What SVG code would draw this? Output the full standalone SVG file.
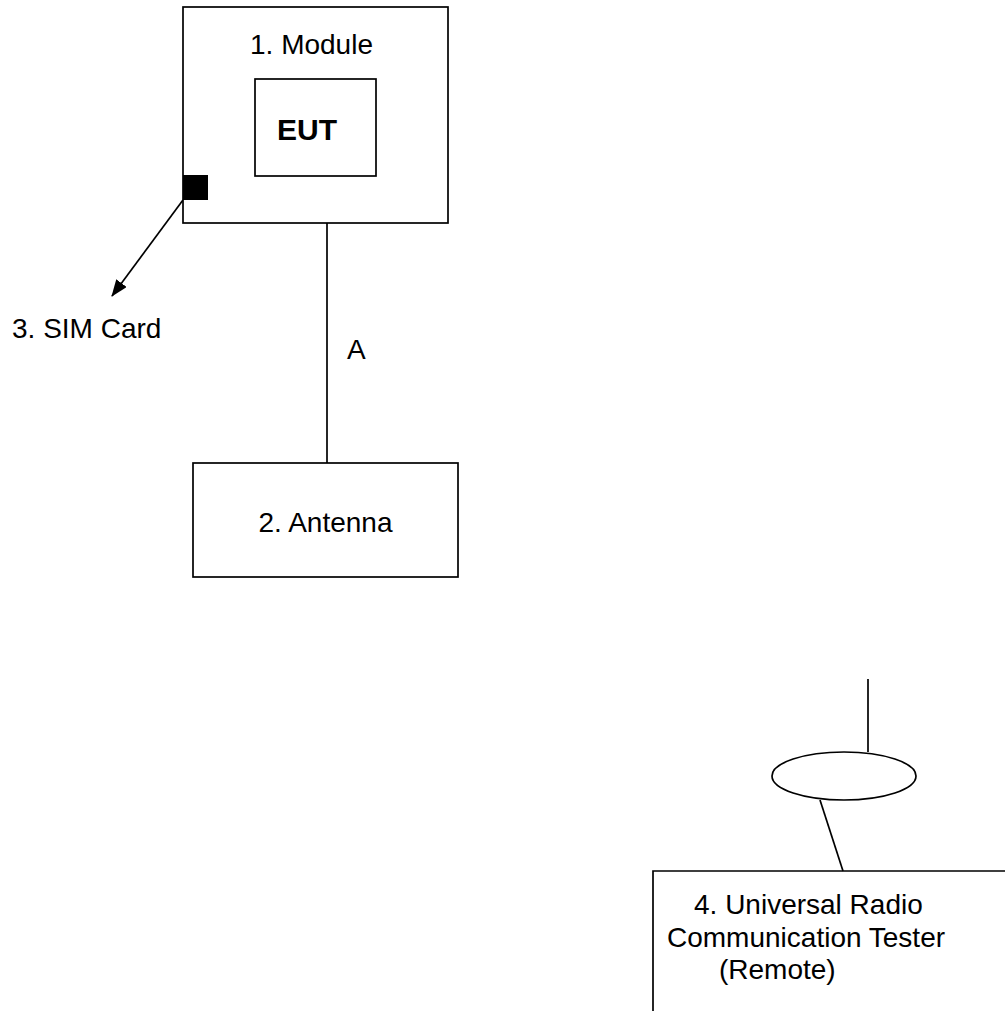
<svg xmlns="http://www.w3.org/2000/svg" width="1005" height="1011" viewBox="0 0 1005 1011">
<style>
.box{fill:#fff;stroke:#000;stroke-width:1.7}
.ln{fill:none;stroke:#000;stroke-width:1.7}
.t{font-family:"Liberation Sans",Arial,sans-serif;font-size:28px;fill:#000}
.b{font-weight:bold;font-size:30px}
</style>
<defs>
<marker id="ah" markerWidth="17" markerHeight="13" refX="16" refY="6.5" orient="auto" markerUnits="userSpaceOnUse" viewBox="0 0 17 13">
<path d="M0,0 L17,6.5 L0,13 z" fill="#000"/>
</marker>
</defs>
<rect width="1005" height="1011" fill="#fff"/>
<g id="connectors">
<line class="ln" x1="327" y1="176" x2="327" y2="463"/>
<line class="ln" x1="183" y1="200" x2="112" y2="296" marker-end="url(#ah)"/>
<line class="ln" x1="868" y1="679" x2="868" y2="752"/>
<line class="ln" x1="820" y1="800" x2="843" y2="871"/>
</g>
<g id="module">
<rect class="box" x="183" y="7" width="265" height="216"/>
<text class="t" x="250" y="54">1. Module</text>
</g>
<g id="eut">
<rect class="box" x="255" y="79" width="121" height="97"/>
<text class="t b" x="277" y="140">EUT</text>
</g>
<g id="sim">
<rect x="183" y="175" width="25" height="25" fill="#000"/>
<text class="t" x="12" y="338">3. SIM Card</text>
</g>
<g id="label-a">
<text class="t" x="347" y="359">A</text>
</g>
<g id="antenna">
<rect class="box" x="193" y="463" width="265" height="114"/>
<text class="t" x="325.5" y="532" text-anchor="middle">2. Antenna</text>
</g>
<g id="tester-antenna">
<ellipse class="box" cx="844" cy="776" rx="72" ry="24"/>
</g>
<g id="tester">
<path class="ln" d="M653,1011 V871 H1005"/>
<text class="t" x="694" y="914">4. Universal Radio</text>
<text class="t" x="667" y="947">Communication Tester</text>
<text class="t" x="719" y="979">(Remote)</text>
</g>
</svg>
